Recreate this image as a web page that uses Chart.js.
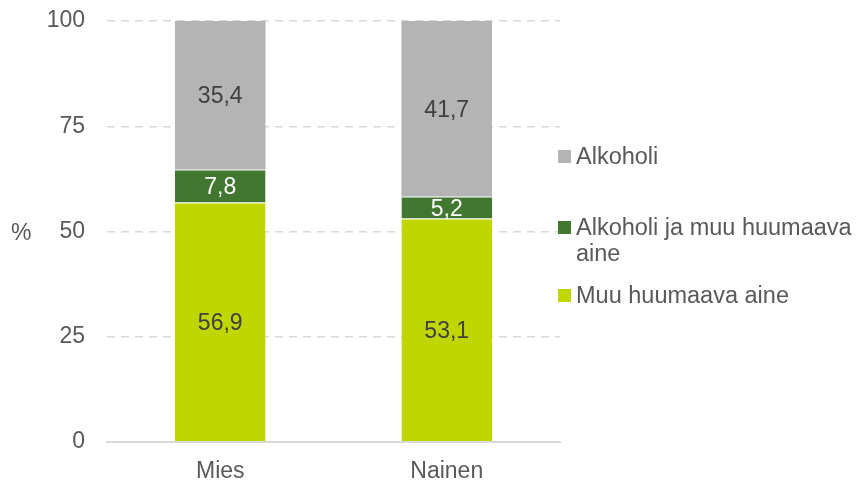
<!DOCTYPE html>
<html>
<head>
<meta charset="utf-8">
<script src="https://cdn.jsdelivr.net/npm/chart.js@4/dist/chart.umd.min.js"></script>
<style>
  html, body { margin: 0; padding: 0; background: #fff; }
  #wrap { width: 860px; height: 482px; position: relative; }
</style>
</head>
<body>
<div id="wrap"><canvas id="chart" width="860" height="482"></canvas></div>
<script>
const categories = ['Mies', 'Nainen'];
const muuHuumaava = [56.9, 53.1];
const alkoholiJaMuu = [7.8, 5.2];
const alkoholi = [35.4, 41.7];
const yTicks = [0, 25, 50, 75, 100];

const seriesNames = ['Muu huumaava aine', 'Alkoholi ja muu huumaava aine', 'Alkoholi'];
const seriesColors = ['#BFD600', '#41772F', '#B4B4B4'];
const labelColors = ['#404040', '#FFFFFF', '#404040'];
const textColor = '#595959';
const fontFamily = 'Arial, "Liberation Sans", sans-serif';

const fmt = v => v.toFixed(1).replace('.', ',');

// value labels inside bars + "%" title + legend on the right
const extras = {
  id: 'extras',
  afterDatasetsDraw(chart) {
    const ctx = chart.ctx;
    ctx.save();
    ctx.font = '23px ' + fontFamily;
    ctx.textAlign = 'center';
    ctx.textBaseline = 'middle';
    chart.data.datasets.forEach((ds, i) => {
      chart.getDatasetMeta(i).data.forEach((bar, j) => {
        ctx.fillStyle = labelColors[i];
        ctx.fillText(fmt(ds.data[j]), bar.x, (bar.y + bar.base) / 2 + 2);
      });
    });

    ctx.fillStyle = textColor;
    ctx.textAlign = 'left';
    ctx.fillText('%', 11, 234);

    // legend (drawn top to bottom: Alkoholi first)
    const items = [
      { name: ['Alkoholi'], color: seriesColors[2], y: 157 },
      { name: ['Alkoholi ja muu huumaava', 'aine'], color: seriesColors[1], y: 228 },
      { name: ['Muu huumaava aine'], color: seriesColors[0], y: 296 }
    ];
    ctx.font = '23.5px ' + fontFamily;
    items.forEach(it => {
      ctx.fillStyle = it.color;
      ctx.fillRect(558, it.y - 7, 13, 13);
      ctx.fillStyle = textColor;
      it.name.forEach((line, k) => ctx.fillText(line, 576, it.y + 1 + k * 26));
    });
    ctx.restore();
  }
};

const segBorder = { top: 1, right: 0, bottom: 0, left: 0 };

new Chart(document.getElementById('chart'), {
  type: 'bar',
  data: {
    labels: categories,
    datasets: [
      { label: seriesNames[0], data: muuHuumaava, backgroundColor: seriesColors[0],
        borderColor: 'rgba(255,255,255,0.35)', borderWidth: segBorder, borderSkipped: false },
      { label: seriesNames[1], data: alkoholiJaMuu, backgroundColor: seriesColors[1],
        borderColor: 'rgba(255,255,255,0.35)', borderWidth: segBorder, borderSkipped: false },
      { label: seriesNames[2], data: alkoholi, backgroundColor: seriesColors[2] }
    ]
  },
  options: {
    responsive: false,
    animation: false,
    devicePixelRatio: 1,
    layout: { padding: { top: 21, right: 300, left: 0, bottom: 0 } },
    datasets: { bar: { barPercentage: 0.4, categoryPercentage: 1 } },
    plugins: { legend: { display: false }, tooltip: { enabled: false } },
    scales: {
      x: {
        stacked: true,
        grid: { display: false },
        border: { display: true, color: '#D9D9D9', width: 2 },
        ticks: { color: textColor, font: { size: 23, family: fontFamily }, padding: 8 },
        afterFit(s) { s.height = 40; s.paddingLeft = 0; s.paddingRight = 0; }
      },
      y: {
        stacked: true,
        min: 0,
        max: 100,
        afterBuildTicks(s) { s.ticks = yTicks.map(v => ({ value: v })); },
        grid: {
          color: c => c.tick && c.tick.value === 0 ? 'rgba(0,0,0,0)' : '#D9D9D9',
          lineWidth: 1.5,
          drawTicks: false
        },
        border: { display: false, dash: [8, 6] },
        ticks: { color: textColor, font: { size: 23, family: fontFamily }, padding: 22 },
        afterFit(s) { s.width = 107; s.paddingTop = 0; s.paddingBottom = 0; }
      }
    }
  },
  plugins: [extras]
});
</script>
</body>
</html>
